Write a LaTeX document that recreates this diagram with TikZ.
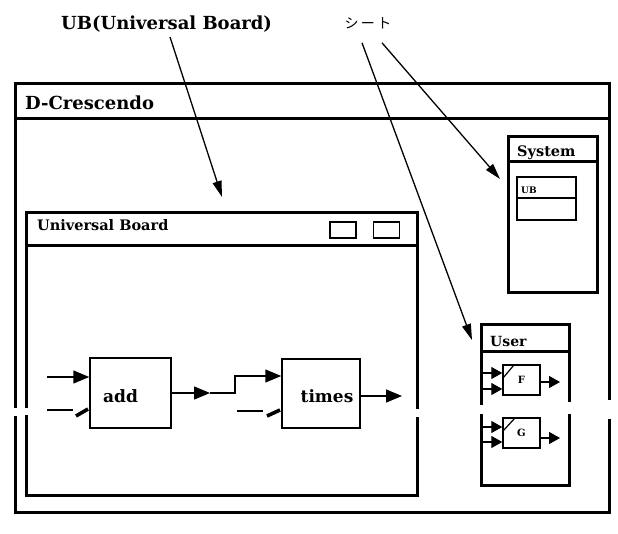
\documentclass[tikz,border=0pt]{standalone}
\usepackage{fontspec}
\setmainfont{DejaVu Serif}
\newfontfamily\jpfont{Noto Sans CJK JP}
\usetikzlibrary{arrows.meta,calc}
\newcommand{\fs}[1]{\fontsize{#1}{#1}\selectfont}
\begin{document}
\begin{tikzpicture}[x=1pt,y=-1pt,
  frame/.style={line width=3pt,line cap=rect},
  thinframe/.style={line width=1.5pt},
  blockbox/.style={draw,line width=1.5pt,inner sep=0pt},
  btn/.style={draw,line width=1.5pt,minimum width=26pt,minimum height=16pt,inner sep=0pt},
  sig/.style={line width=1.5pt},
  sigarrow/.style={sig,-{Triangle[length=16pt,width=13pt]}},
  minisig/.style={line width=1.4pt,-{Triangle[length=11pt,width=12pt]}},
  wedge/.style={line width=3.6pt},
  pointer/.style={line width=1.3pt,-{Triangle[length=16pt,width=9pt]}},
  lbl/.style={inner sep=0pt,anchor=base west},
]
\useasboundingbox (0,0) rectangle (618,534);

% ---- labels at the top ----
\node[lbl,font=\bfseries\fs{18}] (ublab) at (61,30) {UB(Universal Board)};
\node[inner sep=0pt,font=\jpfont\fs{14}] (sheet) at (368,23) {シ\,ー\,ト};

% ---- D-Crescendo main window ----
\draw[frame] (15,406) -- (15,84) -- (609,84) -- (609,398);
\draw[frame] (609,420) -- (609,512) -- (15,512) -- (15,417);
\draw[frame] (15,119) -- (609,119);
\node[lbl,font=\bfseries\fs{18}] (dctitle) at (25,110) {D-Crescendo};

% ---- Universal Board window ----
\draw[frame] (26,406) -- (26,213) -- (417,213) -- (417,407);
\draw[frame] (417,418) -- (417,495) -- (26,495) -- (26,416);
\draw[frame] (26,246) -- (417,246);
\node[lbl,font=\bfseries\fs{14.5}] (ubtitle) at (37,231) {Universal Board};
\node[btn] (btnA) at (343,230) {};
\node[btn] (btnB) at (386.5,230) {};

% ---- function blocks ----
\node[blockbox,minimum width=81pt,minimum height=70pt,
      label={[font=\bfseries\fs{17},xshift=-10pt,yshift=-3pt]center:add}] (add) at (130.5,393) {};
\node[blockbox,minimum width=78pt,minimum height=69pt,
      label={[font=\bfseries\fs{17},xshift=6pt,yshift=-3pt]center:times}] (times) at (321,393.5) {};

\coordinate (addinA) at (47,377);
\coordinate (addinB) at (47,410);
\draw[sigarrow] (addinA) -- (add.west |- addinA);
\draw[sig] (addinB) -- (73,410);
\draw[wedge] (76,416) -- (88,409);

\coordinate (mid) at (210,393);
\coordinate (bendA) at (235,393);
\coordinate (bendB) at (235,376);
\draw[sigarrow] (add.east) -- (mid);
\draw[sigarrow] (mid) -- (bendA) -- (bendB) -- (times.west |- bendB);

\coordinate (timesinB) at (237,411);
\draw[sig] (timesinB) -- (263,411);
\draw[wedge] (267,416) -- (280,410);

\coordinate (timesout) at (402,396);
\draw[sigarrow] (times.east |- timesout) -- (timesout);

% ---- System sheet ----
\draw[frame] (508,137) rectangle (597,293);
\draw[frame] (508,162) -- (597,162);
\node[lbl,font=\bfseries\fs{14.5}] (systitle) at (517,157) {System};
\draw[thinframe] (517,177) rectangle (576,220);
\draw[thinframe] (517,198) -- (576,198);
\node[lbl,font=\bfseries\fs{9}] (sysub) at (521,194) {UB};

% ---- User sheet ----
\draw[frame] (481,403) -- (481,325) -- (569,325) -- (569,400);
\draw[frame] (569,415) -- (569,485) -- (481,485) -- (481,415);
\draw[frame] (481,351) -- (569,351);
\node[lbl,font=\bfseries\fs{14}] (usertitle) at (490,346) {User};

\node[blockbox,minimum width=37pt,minimum height=30pt,font=\bfseries\fs{10}] (fF) at (521.5,380) {F};
\draw[line width=1.2pt] (503,378) -- (514,365);
\draw[minisig] (481,373) -- (fF.west |- 0,373);
\draw[minisig] (481,389) -- (fF.west |- 0,389);
\draw[minisig] (fF.east |- 0,382) -- (560,382);

\node[blockbox,minimum width=37pt,minimum height=30pt,font=\bfseries\fs{10}] (fG) at (521.5,433) {G};
\draw[line width=1.2pt] (503,431) -- (515,418);
\draw[minisig] (481,427) -- (fG.west |- 0,427);
\draw[minisig] (481,442) -- (fG.west |- 0,442);
\draw[minisig] (fG.east |- 0,438) -- (560,438);

% ---- pointers from the top labels ----
\coordinate (toUB) at (222,197);
\coordinate (toUser) at (472,340);
\coordinate (toSystem) at (500,179);
\draw[pointer] ($(ublab.base west)+(109,7)$) -- (toUB);
\draw[pointer] ($(sheet.south)+(-6,14)$) -- (toUser);
\draw[pointer] ($(sheet.south)+(14,14)$) -- (toSystem);
\end{tikzpicture}
\end{document}
